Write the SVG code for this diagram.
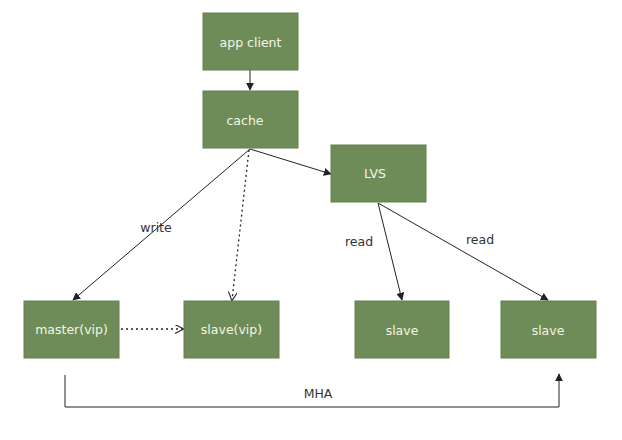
<svg xmlns="http://www.w3.org/2000/svg" width="622" height="440" viewBox="0 0 622 440">
<defs>
<style>
.box{fill:#6e8c57;stroke:#62804c;stroke-width:1}
.nt{font-family:"DejaVu Sans",sans-serif;font-size:12.5px;fill:#f2f6e6;text-anchor:middle;dominant-baseline:central}
.lb{font-family:"DejaVu Sans",sans-serif;font-size:12.5px;fill:#333;text-anchor:middle;dominant-baseline:central}
.ln{stroke:#222;stroke-width:1;fill:none}
.dt{stroke:#222;stroke-width:1.3;fill:none;stroke-dasharray:2 3}
</style>
<marker id="ah" viewBox="0 0 10 10" refX="9" refY="5" markerWidth="8" markerHeight="8" orient="auto" markerUnits="userSpaceOnUse">
<path d="M0,0 L10,5 L0,10 z" fill="#222"/>
</marker>
<marker id="oh" viewBox="0 0 10 10" refX="9" refY="5" markerWidth="9" markerHeight="9" orient="auto" markerUnits="userSpaceOnUse">
<path d="M0,0 L10,5 L0,10" fill="none" stroke="#222" stroke-width="1.2"/>
</marker>
</defs>
<rect width="622" height="440" fill="#fff"/>
<g id="connectors">
<line class="ln" x1="250" y1="70" x2="250" y2="90" marker-end="url(#ah)"/>
<line class="ln" x1="250" y1="149" x2="331" y2="174" marker-end="url(#ah)"/>
<line class="ln" x1="250" y1="149" x2="73" y2="300" marker-end="url(#ah)"/>
<line class="dt" x1="249" y1="150" x2="232" y2="300" marker-end="url(#oh)"/>
<line class="dt" x1="121" y1="329" x2="183" y2="329" marker-end="url(#oh)"/>
<line class="ln" x1="378" y1="203" x2="402" y2="300" marker-end="url(#ah)"/>
<line class="ln" x1="378" y1="203" x2="548" y2="300" marker-end="url(#ah)"/>
<polyline class="ln" points="65,375 65,407 559,407 559,374" marker-end="url(#ah)"/>
<text class="lb" x="156" y="227">write</text>
<text class="lb" x="359" y="241">read</text>
<text class="lb" x="480" y="239">read</text>
<text class="lb" x="318" y="393">MHA</text>
</g>
<g id="app-client"><rect class="box" x="203" y="13" width="95" height="57"/><text class="nt" x="250.5" y="42">app client</text></g>
<g id="cache"><rect class="box" x="203" y="91" width="95" height="57"/><text class="nt" x="245" y="120">cache</text></g>
<g id="lvs"><rect class="box" x="331" y="145" width="95" height="57"/><text class="nt" x="375" y="173">LVS</text></g>
<g id="master-vip"><rect class="box" x="24" y="301" width="95" height="57"/><text class="nt" x="71.5" y="329">master(vip)</text></g>
<g id="slave-vip"><rect class="box" x="184" y="301" width="95" height="57"/><text class="nt" x="231.5" y="329">slave(vip)</text></g>
<g id="slave-1"><rect class="box" x="355" y="301" width="94" height="57"/><text class="nt" x="402" y="330">slave</text></g>
<g id="slave-2"><rect class="box" x="501" y="301" width="95" height="57"/><text class="nt" x="548" y="330">slave</text></g>
</svg>
